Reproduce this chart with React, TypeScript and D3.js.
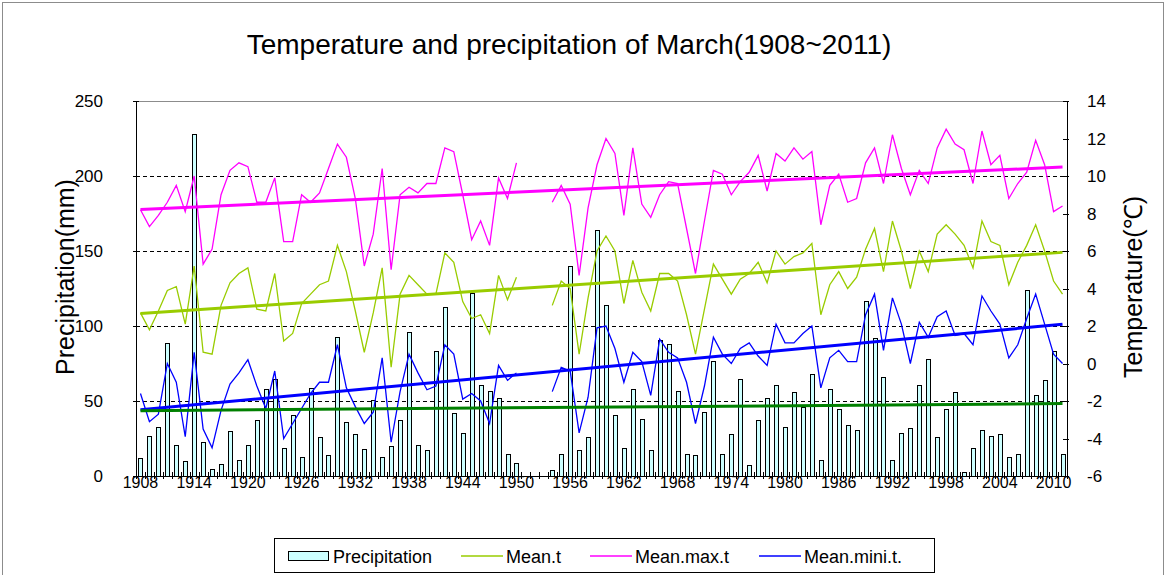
import * as d3 from "d3";

// March, 1908~2011 (1951~1953 missing)
const years = d3.range(1908, 2012);
const xLabelYears = [1908, 1914, 1920, 1926, 1932, 1938, 1944, 1950, 1956, 1962, 1968, 1974, 1980, 1986, 1992, 1998, 2004, 2010];
const precipTicks = [0, 50, 100, 150, 200, 250];
const tempTicks = [-6, -4, -2, 0, 2, 4, 6, 8, 10, 12, 14];

const precipitation = [
  12, 27, 33, 89, 21, 10, 228, 23, 5, 8, // 1908-1917
  30, 11, 21, 37, 58, 65, 19, 41, 13, 59, // 1918-1927
  26, 14, 93, 36, 28, 18, 51, 13, 20, 37, // 1928-1937
  96, 21, 17, 83, 113, 42, 29, 122, 61, 57, // 1938-1947
  52, 15, 9, null, null, null, 4, 15, 140, 17, // 1948-1957
  26, 164, 114, 41, 19, 58, 38, 17, 91, 88, // 1958-1967
  57, 15, 14, 43, 77, 15, 28, 65, 7, 37, // 1968-1977
  52, 61, 33, 56, 46, 68, 11, 58, 45, 34, // 1978-1987
  31, 117, 92, 66, 11, 29, 32, 61, 78, 26, // 1988-1997
  45, 56, 3, 19, 31, 27, 28, 13, 15, 124, // 1998-2007
  54, 64, 83, 15, // 2008-2011
];

const meanT = [
  2.7, 1.8, 2.8, 3.9, 4.1, 2.1, 5.2, 0.6, 0.5, 3.1,
  4.3, 4.8, 5.1, 2.9, 2.8, 4.8, 1.2, 1.6, 3.2, 3.7,
  4.2, 4.4, 6.3, 4.9, 2.8, 0.6, 2.7, 5.1, -0.2, 3.7,
  4.7, 4.2, 3.7, 3.7, 5.9, 5.4, 3.3, 2.4, 2.6, 1.6,
  4.7, 3.4, 4.6, null, null, null, 3.1, 4.4, 4.0, 0.5,
  3.5, 6.0, 6.8, 6.0, 3.2, 5.5, 3.8, 2.8, 4.8, 4.8,
  4.4, 2.6, 0.5, 2.9, 5.3, 4.5, 3.7, 4.5, 4.8, 5.4,
  4.3, 6.0, 5.3, 5.7, 5.9, 6.4, 2.6, 4.2, 4.9, 4.0,
  4.6, 6.1, 7.2, 4.9, 7.6, 6.0, 4.0, 6.0, 4.9, 6.9,
  7.4, 6.9, 6.3, 5.1, 7.6, 6.5, 6.3, 4.2, 5.4, 6.3,
  7.4, 6.0, 4.4, 3.7,
];

const meanMaxT = [
  8.2, 7.3, 7.9, 8.6, 9.5, 8.1, 10.0, 5.3, 6.1, 9.0,
  10.3, 10.7, 10.5, 8.6, 8.6, 9.9, 6.5, 6.5, 9.0, 8.6,
  9.1, 10.4, 11.7, 11.0, 8.8, 5.2, 6.9, 10.4, 5.0, 9.0,
  9.4, 9.1, 9.6, 9.6, 11.5, 11.3, 9.0, 6.6, 7.6, 6.3,
  9.9, 8.8, 10.7, null, null, null, 8.6, 9.5, 8.5, 4.7,
  8.3, 10.6, 12.0, 11.2, 7.9, 11.5, 8.5, 7.8, 9.0, 9.7,
  9.6, 7.2, 4.8, 7.6, 10.3, 10.1, 9.0, 9.7, 10.2, 11.1,
  9.2, 11.2, 10.8, 11.5, 10.9, 11.3, 7.4, 9.5, 10.1, 8.6,
  8.8, 10.7, 11.5, 9.6, 12.2, 10.4, 9.0, 10.3, 9.6, 11.5,
  12.5, 11.7, 11.4, 9.6, 12.4, 10.6, 11.1, 8.8, 9.6, 10.2,
  11.9, 10.6, 8.1, 8.4,
];

const meanMiniT = [
  -1.6, -3.1, -2.7, 0.0, -1.0, -3.9, 0.6, -3.5, -4.5, -2.5,
  -1.1, -0.5, 0.2, -1.2, -2.4, -0.4, -4.0, -3.2, -2.4, -1.6,
  -1.0, -1.0, 1.0, -1.3, -2.3, -3.2, -2.6, 0.3, -4.2, -1.5,
  0.5, -0.5, -1.4, -1.2, 1.0, 0.5, -1.9, -1.6, -2.0, -3.2,
  -0.1, -0.9, -0.5, null, null, null, -1.5, -0.2, -0.4, -3.7,
  -1.8, 1.9, 2.0, 0.8, -1.0, 0.6, 0.1, -1.7, 1.3, 0.6,
  0.3, -1.0, -3.2, -1.2, 1.4, 0.5, 0.0, 0.8, 1.1, 0.4,
  -0.1, 2.1, 1.1, 1.1, 1.6, 2.0, -1.3, 0.3, 0.7, 0.1,
  0.1, 2.6, 3.7, 0.7, 3.5, 2.1, 0.0, 2.2, 1.4, 2.5,
  2.8, 1.5, 1.6, 1.0, 3.6, 2.8, 2.1, 0.3, 1.0, 2.4,
  3.7, 2.1, 0.5, 0.0,
];

const FONT = "'Liberation Sans', Arial, sans-serif";
const M = { left: 136, right: 1067, top: 101, bottom: 476 };

// least squares on category index, blanks skipped (like Excel)
function trend(values: (number | null)[]) {
  const pts = values
    .map((v, i) => [i, v] as [number, number | null])
    .filter((p) => p[1] != null) as [number, number][];
  const mx = d3.mean(pts, (p) => p[0])!;
  const my = d3.mean(pts, (p) => p[1])!;
  const sxy = d3.sum(pts, (p) => (p[0] - mx) * (p[1] - my));
  const sxx = d3.sum(pts, (p) => (p[0] - mx) ** 2);
  const b = sxy / sxx;
  const a = my - b * mx;
  return [0, values.length - 1].map((i) => a + b * i);
}

const crisp = (v: number) => Math.round(v) + 0.5;

export default function App() {
  const x = d3.scaleBand<number>().domain(years).range([M.left, M.right]);
  const cx = (yr: number) => x(yr)! + x.bandwidth() / 2;
  const yP = d3.scaleLinear().domain([0, 250]).range([M.bottom, M.top]);
  const yT = d3.scaleLinear().domain([-6, 14]).range([M.bottom, M.top]);
  const barW = 4;

  const tempLine = d3
    .line<number | null>()
    .defined((d) => d != null)
    .x((_, i) => cx(years[i]))
    .y((d) => yT(d as number));

  const series = [
    { name: "Mean.t", values: meanT, color: "#99cc00" },
    { name: "Mean.max.t", values: meanMaxT, color: "#ff00ff" },
    { name: "Mean.mini.t.", values: meanMiniT, color: "#0000ff" },
  ];

  const firstX = cx(years[0]);
  const lastX = cx(years[years.length - 1]);
  const pTrend = trend(precipitation);

  return (
    <svg
      width={1168}
      height={575}
      style={{ position: "absolute", left: 0, top: 0, background: "#fff" }}
      fontFamily={FONT}
    >
      <rect x={2.5} y={2.5} width={1161} height={590} fill="none" stroke="#8c8c8c" />

      <text x={569} y={54} textAnchor="middle" fontSize={28}>
        Temperature and precipitation of March(1908~2011)
      </text>

      {/* grid */}
      {precipTicks.slice(1, -1).map((t) => (
        <line
          key={t}
          x1={M.left}
          x2={M.right}
          y1={crisp(yP(t))}
          y2={crisp(yP(t))}
          stroke="#000"
          strokeDasharray="4,3"
          shapeRendering="crispEdges"
        />
      ))}
      <line x1={M.left} x2={M.right} y1={M.top + 0.5} y2={M.top + 0.5} stroke="#8c8c8c" shapeRendering="crispEdges" />

      {/* bars */}
      {precipitation.map((v, i) =>
        v == null ? null : (
          <rect
            key={i}
            x={Math.round(cx(years[i]) - barW / 2) + 0.5}
            y={Math.round(yP(v)) + 0.5}
            width={barW}
            height={Math.round(yP(0)) - Math.round(yP(v))}
            fill="#ccffff"
            stroke="#000"
            strokeWidth={1}
            shapeRendering="crispEdges"
          />
        )
      )}

      {/* temperature lines */}
      {series.map((s) => (
        <path key={s.name} d={tempLine(s.values) ?? ""} fill="none" stroke={s.color} strokeWidth={1.3} />
      ))}

      {/* trend lines */}
      {series.map((s) => {
        const t = trend(s.values);
        return (
          <line key={s.name} x1={firstX} x2={lastX} y1={yT(t[0])} y2={yT(t[1])} stroke={s.color} strokeWidth={3} />
        );
      })}
      <line x1={firstX} x2={lastX} y1={yP(pTrend[0])} y2={yP(pTrend[1])} stroke="#008000" strokeWidth={3} />

      {/* axes */}
      <g shapeRendering="crispEdges" stroke="#000">
        <line x1={M.left + 0.5} x2={M.left + 0.5} y1={M.top} y2={M.bottom} />
        <line x1={M.right + 0.5} x2={M.right + 0.5} y1={M.top} y2={M.bottom} />
        <line x1={M.left} x2={M.right} y1={M.bottom + 0.5} y2={M.bottom + 0.5} />
      </g>

      {precipTicks.map((t) => (
        <g key={t}>
          <line x1={M.left - 3} x2={M.left + 3} y1={crisp(yP(t))} y2={crisp(yP(t))} stroke="#000" shapeRendering="crispEdges" />
          <text x={103} y={yP(t) + 6} textAnchor="end" fontSize={17}>
            {t}
          </text>
        </g>
      ))}
      {tempTicks.map((t) => (
        <g key={t}>
          <line x1={M.right - 4} x2={M.right + 2} y1={crisp(yT(t))} y2={crisp(yT(t))} stroke="#000" shapeRendering="crispEdges" />
          <text x={1087} y={yT(t) + 6} fontSize={17}>
            {t}
          </text>
        </g>
      ))}
      {years.concat([2012]).map((yr, i) => {
        const px = crisp(i < years.length ? x(yr)! : M.right);
        return (
          <line key={yr} x1={px} x2={px} y1={M.bottom - 4} y2={M.bottom + 3} stroke="#000" shapeRendering="crispEdges" />
        );
      })}
      {xLabelYears.map((yr) => (
        <text key={yr} x={cx(yr)} y={488} textAnchor="middle" fontSize={16}>
          {yr}
        </text>
      ))}

      <text transform="translate(74,277) rotate(-90)" textAnchor="middle" fontSize={25}>
        Precipitation(mm)
      </text>
      <text transform="translate(1142,287) rotate(-90)" textAnchor="middle" fontSize={25}>
        Temperature(℃)
      </text>

      {/* legend */}
      <rect x={274.5} y={538.5} width={660} height={34} fill="#fff" stroke="#000" />
      <rect x={288.5} y={551.5} width={40} height={9} fill="#ccffff" stroke="#000" />
      <text x={333} y={563} fontSize={18}>Precipitation</text>
      {series.map((s, i) => {
        const lx = [461, 590, 759][i];
        return (
          <g key={s.name}>
            <line x1={lx} x2={lx + 42} y1={556} y2={556} stroke={s.color} strokeWidth={1.5} />
            <text x={lx + 45} y={563} fontSize={18}>
              {s.name}
            </text>
          </g>
        );
      })}
    </svg>
  );
}
